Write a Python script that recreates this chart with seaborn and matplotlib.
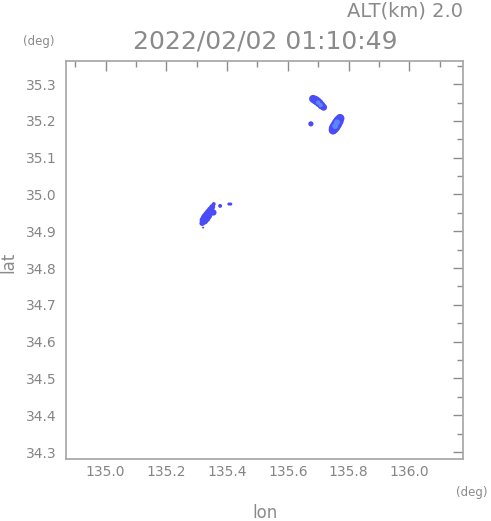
import numpy as np
import pandas as pd
import matplotlib
matplotlib.use('Agg')
import matplotlib.pyplot as plt
import seaborn as sns
from matplotlib.ticker import MultipleLocator, FormatStrFormatter

sns.set_style('white')
plt.rcParams['font.family'] = ['DejaVu Sans']

# echo cells (lon, lat, marker size, shade)
lon = [135.683, 135.690, 135.697, 135.704, 135.711, 135.718,
       135.700, 135.708,
       135.772, 135.767, 135.762, 135.757, 135.752, 135.749,
       135.762, 135.756,
       135.676,
       135.318, 135.324, 135.330, 135.336, 135.341, 135.346, 135.351,
       135.355, 135.356, 135.377, 135.406, 135.412, 135.321]
lat = [35.260, 35.257, 35.253, 35.248, 35.242, 35.237,
       35.250, 35.243,
       35.207, 35.200, 35.193, 35.186, 35.180, 35.175,
       35.196, 35.186,
       35.192,
       34.922, 34.930, 34.937, 34.944, 34.951, 34.958, 34.966,
       34.951, 34.974, 34.969, 34.974, 34.974, 34.910]
size = [32, 38, 38, 36, 32, 24,
        10, 10,
        40, 55, 60, 60, 55, 40,
        18, 18,
        14,
        16, 40, 48, 44, 36, 28, 18,
        20, 8, 8, 5, 5, 2]
shade = ['dark'] * 6 + ['light'] * 2 + ['dark'] * 6 + ['light'] * 2 + ['dark'] * 14

df = pd.DataFrame({'lon': lon, 'lat': lat, 'size': size, 'shade': shade})

fig = plt.figure(figsize=(4.91, 5.21), dpi=100)
ax = fig.add_axes([0.1354, 0.119, 0.8076, 0.764])

pal = {'dark': '#4a4cf8', 'light': '#5a86ff'}
for s in ['dark', 'light']:
    d = df[df.shade == s]
    sns.scatterplot(data=d, x='lon', y='lat', s=d['size'], color=pal[s],
                    marker='o', edgecolor='none', linewidth=0, legend=False, ax=ax)

ax.set_xlim(134.871, 136.177)
ax.set_ylim(34.281, 35.363)
ax.xaxis.set_major_locator(MultipleLocator(0.2))
ax.xaxis.set_minor_locator(MultipleLocator(0.1))
ax.yaxis.set_major_locator(MultipleLocator(0.1))
ax.yaxis.set_minor_locator(MultipleLocator(0.05))
ax.xaxis.set_major_formatter(FormatStrFormatter('%.1f'))
ax.yaxis.set_major_formatter(FormatStrFormatter('%.1f'))

gray = '#8c8c8c'
for sp in ax.spines.values():
    sp.set_color('#aaaaaa')
    sp.set_linewidth(1.3)
ax.tick_params(which='both', direction='in', top=True, right=True,
               color=gray, labelcolor='#858585', labelsize=10, width=1.0)
ax.tick_params(axis='x', which='major', length=7, pad=4)
ax.tick_params(axis='y', which='major', length=7, pad=7)
ax.tick_params(which='minor', length=4)
ax.set_xlabel('')
ax.set_ylabel('')

tc = '#8a8a8a'
fig.text(0.943, 0.978, 'ALT(km) 2.0', ha='right', va='center', fontsize=14, color=tc)
fig.text(0.54, 0.92, '2022/02/02 01:10:49', ha='center', va='center', fontsize=18, color=tc)
fig.text(0.078, 0.921, '(deg)', ha='center', va='center', fontsize=8.5, color=tc)
fig.text(0.96, 0.055, '(deg)', ha='center', va='center', fontsize=8.5, color=tc)
fig.text(0.54, 0.016, 'lon', ha='center', va='center', fontsize=12, color=tc)
fig.text(0.018, 0.497, 'lat', ha='center', va='center', fontsize=12, color=tc, rotation=90)

fig.savefig('out.png', dpi=100)
